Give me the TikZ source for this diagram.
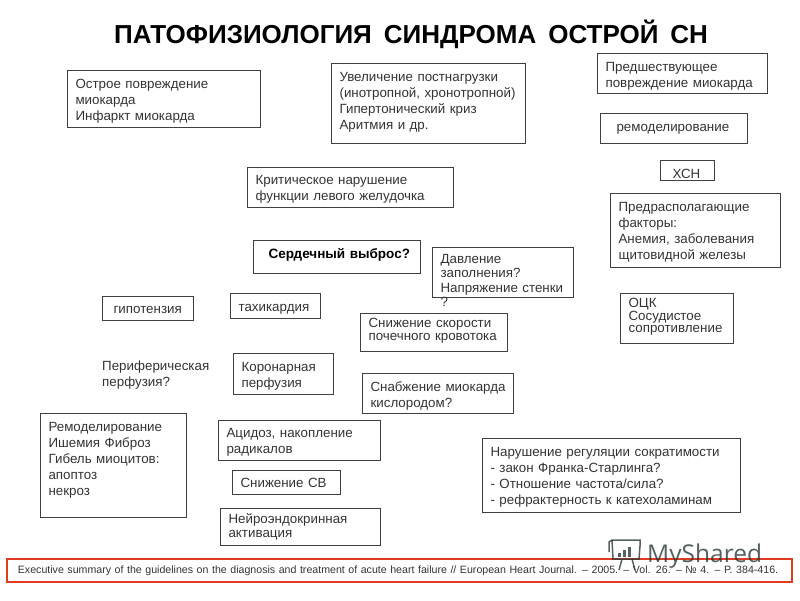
\documentclass[tikz,border=0pt]{standalone}
\usepackage{fontspec}
\setmainfont{Liberation Sans}
\newfontfamily\wmfont{Open Sans}
\definecolor{boxline}{HTML}{404040}
\definecolor{boxtext}{HTML}{333333}
\definecolor{redline}{HTML}{E03A20}
\definecolor{wmgrey}{HTML}{2A3A3A}
\tikzset{
  box/.style n args={3}{draw=boxline,line width=1.1pt,anchor=north west,inner ysep=0pt,inner xsep=8pt,
    text=boxtext,align=left,font=\fontsize{13.35}{16}\selectfont,
    text width={#1-16pt},text height=#3,text depth={#2-#3}},
  tight/.style={font=\fontsize{13.35}{#1}\selectfont},
  plain/.style={anchor=north west,inner sep=0pt,text=boxtext,align=left,font=\fontsize{13.35}{16}\selectfont}
}

\begin{document}
\begin{tikzpicture}[x=1pt,y=-1pt]
        \useasboundingbox (0,0) rectangle (800,600);
        \node[anchor=base west,inner sep=0pt,font=\fontsize{26}{30}\selectfont\bfseries] (title) at (114,43) {\spaceskip=12pt ПАТОФИЗИОЛОГИЯ СИНДРОМА ОСТРОЙ СН};
        
        %top row
        \node[box={193pt}{57pt}{18pt}] (injury) at (67,70) {Острое повреждение\\миокарда\\Инфаркт миокарда};
        \node[box={194pt}{80pt}{18pt}] (afterload) at (331,63) {Увеличение постнагрузки\\(инотропной, хронотропной)\\Гипертонический криз\\Аритмия и др.};
        \node[box={170pt}{40pt}{18pt}] (previous) at (597,53) {Предшествующее\\повреждение миокарда};
        \node[box={147pt}{30pt}{18pt}] (remodel) at (600,113) {\hspace*{8pt}ремоделирование};
        \node[box={54pt}{20pt}{18pt}] (chf) at (660,160) {\hspace*{4pt}ХСН};
        \node[box={170pt}{74pt}{18pt}] (factors) at (610,193) {Предрасполагающие\\факторы:\\Анемия, заболевания\\щитовидной железы};
        \node[box={206pt}{40pt}{17pt}] (lvfunc) at (247,167) {Критическое нарушение\\функции левого желудочка};
        
        %middle
        \node[box={167pt}{33pt}{18pt},text=black,font=\fontsize{13.5}{16}\selectfont\bfseries] (output) at (253,240) {\hspace*{7pt}Сердечный выброс?};
        \node[box={141pt}{50pt}{16pt},tight=14.4] (filling) at (432,247) {Давление\\заполнения?\\Напряжение стенки\\?};
        \node[box={91pt}{24pt}{17pt}] (hypotens) at (102,296) {\hspace*{3pt}гипотензия};
        \node[box={90pt}{25pt}{18pt}] (tachy) at (230,293) {тахикардия};
        \node[box={147pt}{38pt}{14pt},tight=13] (renal) at (360,313) {Снижение скорости\\почечного кровотока};
        \node[box={113pt}{50pt}{14pt},tight=12.7] (volume) at (620,293) {ОЦК\\Сосудистое\\сопротивление};
        \node[plain] (periph) at (102,360.5) {Периферическая\\перфузия?};
        \node[box={100pt}{41pt}{18pt}] (coronary) at (233,353) {Коронарная\\перфузия};
        \node[box={151pt}{40pt}{18pt}] (oxygen) at (362,373) {Снабжение миокарда\\кислородом?};
        
        %bottom
        \node[box={146pt}{104pt}{18pt}] (damage) at (40,413) {Ремоделирование\\Ишемия Фиброз\\Гибель миоцитов:\\апоптоз\\некроз};
        \node[box={162pt}{40pt}{17pt}] (acidosis) at (218,420) {Ацидоз, накопление\\радикалов};
        \node[box={108pt}{24pt}{17pt}] (lowco) at (232,470) {Снижение СВ};
        \node[box={160pt}{37pt}{15pt},tight=14.3] (neuro) at (220,508) {Нейроэндокринная\\активация};
        \node[box={258pt}{74pt}{18pt}] (contract) at (482,438) {Нарушение регуляции сократимости\\- закон Франка-Старлинга?\\- Отношение частота/сила?\\- рефрактерность к катехоламинам};
        
        %reference line
        \node[box={785pt}{23pt}{15pt},draw=redline,line width=1.8pt,font=\fontsize{10.62}{12}\selectfont] (source) at (6,558) {\hspace*{3pt}Executive summary of the guidelines on the diagnosis and treatment of acute heart failure // European Heart Journal. – 2005. – Vol. 26. – № 4. – P. 384-416.};
        
        %watermark
        \node[anchor=base west,inner sep=0pt,text=wmgrey,opacity=.8,font=\wmfont\fontsize{24.5}{30}\selectfont] (myshared) at (647,562) {MyShared};
        \begin{scope}[draw=wmgrey,fill=wmgrey,opacity=.8,line width=1.5pt]
            \draw (609,552) -- (609,542) -- (612,540) -- (640,540) -- (640,546);
            \draw (612,540) -- (613,559) -- (639,559) -- (640,546);
            \draw (622,559) -- (619,570);
            \draw (632,559) -- (635,570);
            \fill (618,557) rectangle (621,553);
            \fill (623,557) rectangle (626,550);
            \fill (628,557) rectangle (631,547);
        \end{scope}
\end{tikzpicture}
\end{document}
